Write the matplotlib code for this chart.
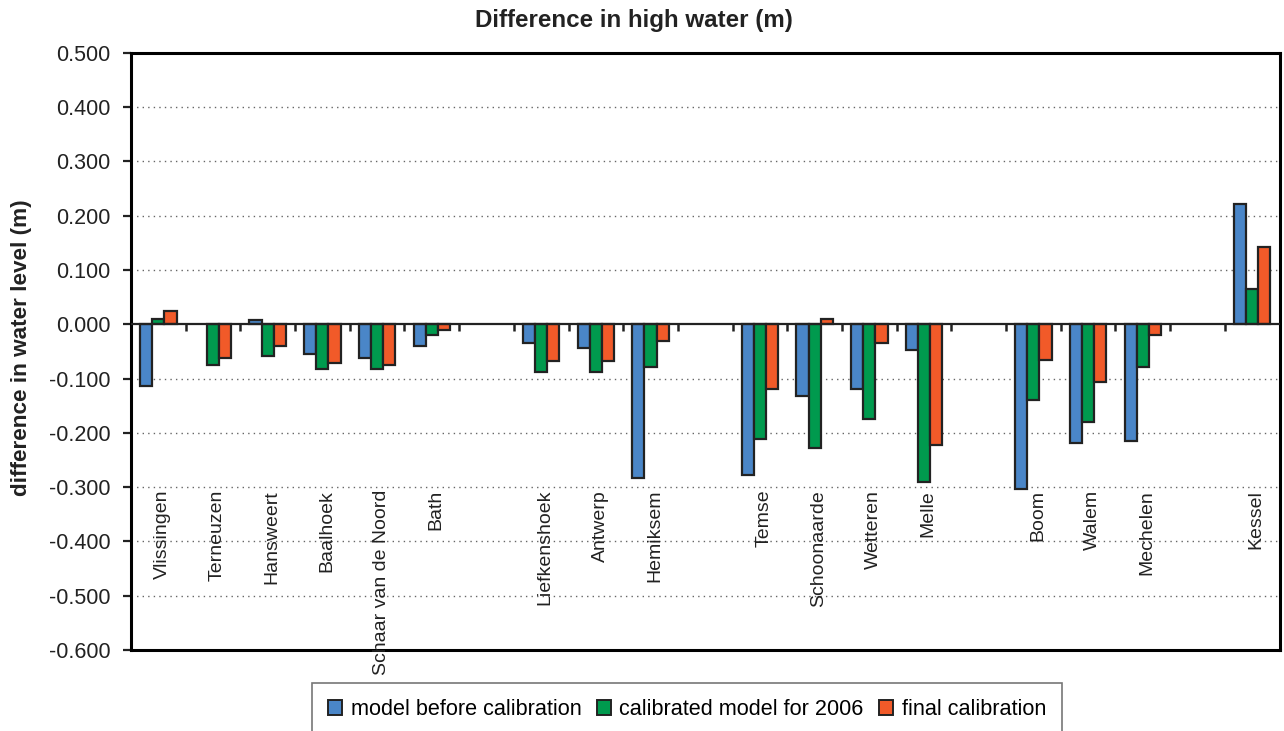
"""Difference in high water per station, three model variants."""
import matplotlib.pyplot as plt
import numpy as np
from matplotlib.patches import Patch

plt.rcParams.update({"font.family": ["Liberation Sans", "DejaVu Sans"]})

# stations along the estuary; empty strings are gaps in the chart
stations = [
    "Vlissingen", "Terneuzen", "Hansweert", "Baalhoek", "Schaar van de Noord",
    "Bath", "", "Liefkenshoek", "Antwerp", "Hemiksem", "", "Temse",
    "Schoonaarde", "Wetteren", "Melle", "", "Boom", "Walem", "Mechelen", "",
    "Kessel",
]
before_cal = [-0.113, np.nan, 0.007, -0.055, -0.062, -0.041, np.nan,
              -0.034, -0.044, -0.283, np.nan, -0.278, -0.133, -0.119, -0.047,
              np.nan, -0.303, -0.218, -0.215, np.nan, 0.221]
cal_2006 = [0.010, -0.075, -0.058, -0.082, -0.082, -0.020, np.nan,
            -0.088, -0.088, -0.079, np.nan, -0.211, -0.228, -0.174, -0.290,
            np.nan, -0.140, -0.181, -0.079, np.nan, 0.064]
final_cal = [0.024, -0.062, -0.041, -0.071, -0.075, -0.010, np.nan,
             -0.068, -0.068, -0.031, np.nan, -0.119, 0.010, -0.034, -0.222,
             np.nan, -0.066, -0.106, -0.020, np.nan, 0.143]

series = [
    ("model before calibration", before_cal, "#4a86c8"),
    ("calibrated model for 2006", cal_2006, "#009a4e"),
    ("final calibration", final_cal, "#f15a29"),
]

fig = plt.figure(figsize=(12.84, 7.31), dpi=100)
ax = fig.add_axes([131 / 1284, 1 - 650 / 731, (1279.5 - 131) / 1284, (650 - 52.7) / 731])

x = np.arange(len(stations))
w = 1 / 4.5
for i, (name, vals, col) in enumerate(series):
    ax.bar(x + (i - 1) * w, vals, width=w, color=col, edgecolor="#222222",
           linewidth=1.6, zorder=3)

ax.set_xlim(-0.5, len(stations) - 0.5)
ax.set_ylim(-0.6, 0.5)
yt = np.round(np.arange(-0.6, 0.51, 0.1), 1)
ax.set_yticks(yt)
ax.set_yticklabels([f"{v:.3f}" if v != 0 else "0.000" for v in yt])
ax.tick_params(axis="y", direction="out", length=6, width=1.6, labelsize=15.5,
               pad=9, colors="#222222")
ax.set_xticks([])

for yv in yt[1:-1]:
    if yv != 0:
        ax.axhline(yv, color="#666666", lw=1.0, ls=(0, (1, 3)), zorder=1)
ax.axhline(0, color="#222222", lw=1.6, zorder=4)
ax.vlines(np.arange(0.5, len(stations) - 0.5), -0.013, 0, color="#222222",
          lw=1.8, zorder=4)

for s in ax.spines.values():
    s.set_linewidth(2.2)
    s.set_color("black")

for xi, name in zip(x, stations):
    if name:
        ax.text(xi + 0.075, -0.305, name, rotation=90, ha="center", va="top",
                fontsize=14, color="#222222", zorder=5, clip_on=False)

fig.text(0.494, 0.972, "Difference in high water (m)", ha="center", va="center",
         fontsize=17.4, fontweight="bold", color="#222222")
fig.text(0.017, 0.525, "difference in water level (m)", rotation=90, ha="center",
         va="center", fontsize=16.2, fontweight="bold", color="#222222")

handles = [Patch(facecolor=c, edgecolor="#222222", linewidth=1.4, label=n)
           for n, _, c in series]
leg = fig.legend(handles=handles, loc="upper center", bbox_to_anchor=(0.535, 0.066),
                 ncol=3, fontsize=15.6, frameon=True, fancybox=False,
                 handlelength=0.65, handleheight=0.65, handletextpad=0.4,
                 columnspacing=0.7, borderpad=0.75, borderaxespad=0)
leg.get_frame().set_edgecolor("#555555")
leg.get_frame().set_linewidth(1.2)

fig.savefig("out.png", dpi=100)
